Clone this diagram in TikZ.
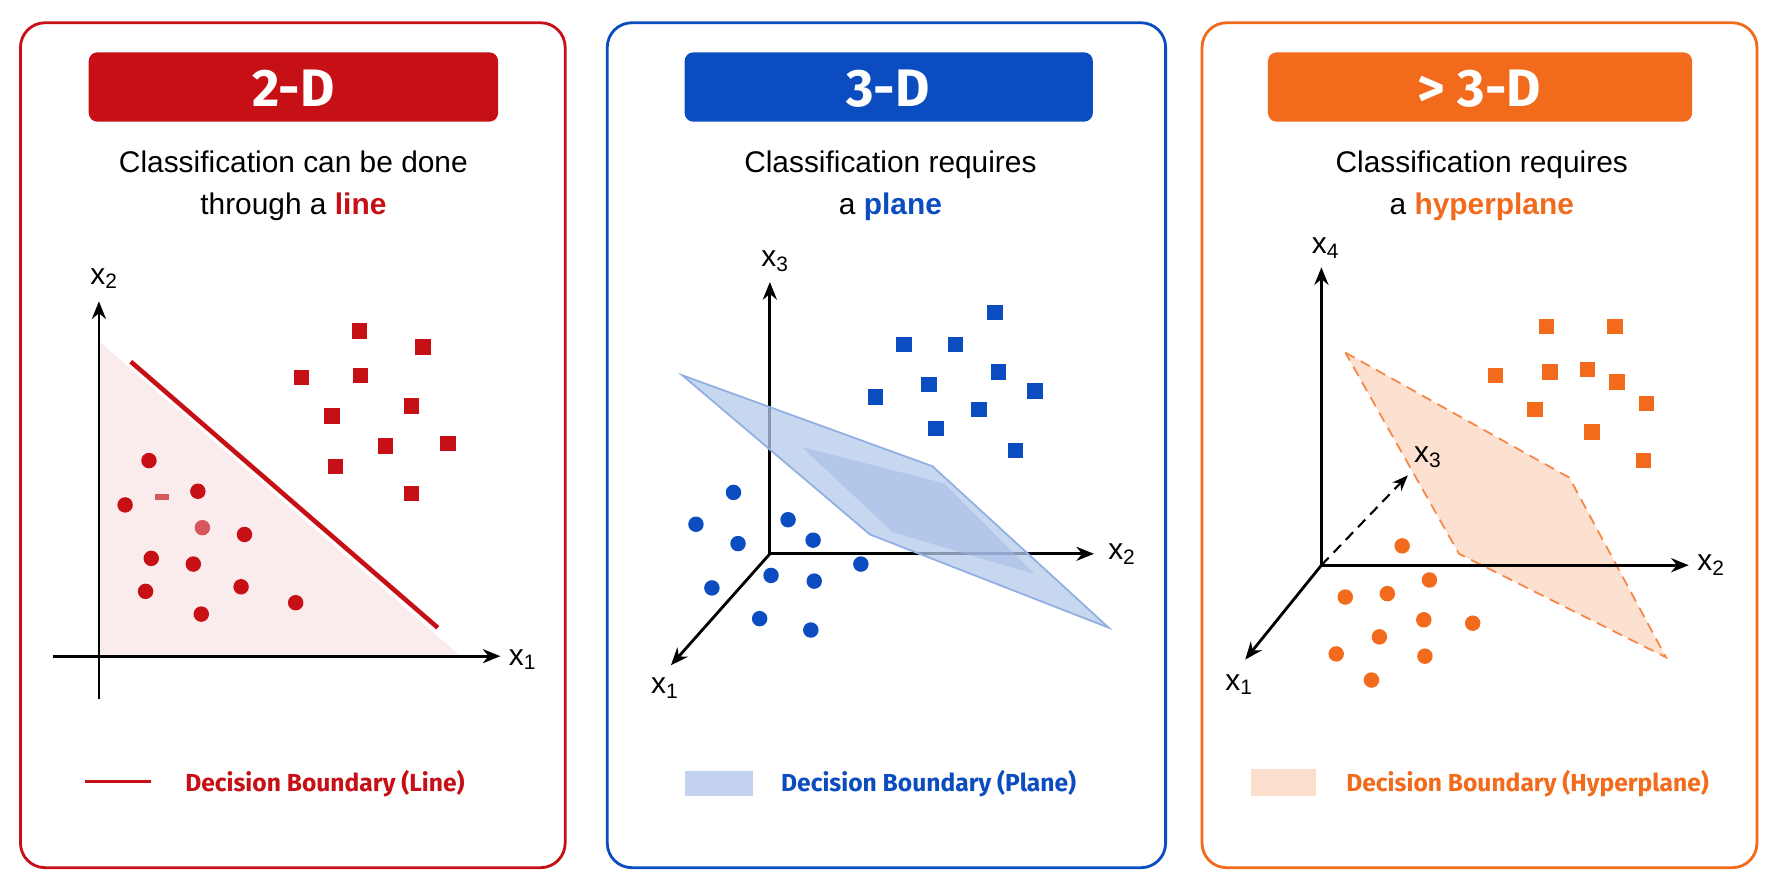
\documentclass[tikz,border=0pt]{standalone}
\usepackage{fontspec}
\setmainfont{Liberation Sans}
\newfontfamily\cond{Fira Sans}
\usetikzlibrary{arrows.meta}
\definecolor{cred}{HTML}{C70F16}
\definecolor{cblue}{HTML}{0B4DC0}
\definecolor{corange}{HTML}{F26A1B}
\newcommand{\xs}[1]{x\textsubscript{#1}}
\begin{document}
\begin{tikzpicture}[x=0.1137mm,y=-0.1137mm,
  panel/.style={rounded corners=7pt,line width=0.8pt,fill=white},
  bar/.style={rounded corners=2.5pt},
  ttl/.style={text=white,font=\cond\bfseries\fontsize{15}{15}\selectfont},
  sub/.style={font=\fontsize{8.5}{12}\selectfont,align=center},
  ax/.style={line width=0.8pt,-{Stealth[length=5pt,width=4pt]}},
  lab/.style={font=\fontsize{8.5}{8}\selectfont},
  leg/.style={font=\cond\bfseries\fontsize{7}{8}\selectfont,anchor=west},
  dot/.style={circle,inner sep=0pt,minimum size=4.4pt},
  sq/.style={rectangle,inner sep=0pt,minimum size=4.4pt}]
\useasboundingbox (0,0) rectangle (1560,780);
\fill[white] (0,0) rectangle (1560,780);
% panels
\draw[panel,draw=cred] (18,20) rectangle (497,763);
\draw[panel,draw=cblue] (534,20) rectangle (1025,763);
\draw[panel,draw=corange] (1057,20) rectangle (1545,763);
\fill[bar,cred] (78,46) rectangle (438,107);
\fill[bar,cblue] (602,46) rectangle (961,107);
\fill[bar,corange] (1115,46) rectangle (1488,107);
\node[ttl] (t1) at (258,78) {2-D};
\node[ttl] (t2) at (781,78) {3-D};
\node[ttl] (t3) at (1301,78) {> 3-D};
\node[sub] (s1) at (258,163) {Classification can be done\\through a \textcolor{cred}{\textbf{line}}};
\node[sub] (s2) at (783,163) {Classification requires\\a \textcolor{cblue}{\textbf{plane}}};
\node[sub] (s3) at (1303,163) {Classification requires\\a \textcolor{corange}{\textbf{hyperplane}}};
% ---------- panel 1
\fill[cred!8] (87,300) -- (87,577) -- (405,577) -- cycle;
\coordinate (o1b) at (87,615); \coordinate (o1t) at (87,265);
\coordinate (o1l) at (47,577); \coordinate (o1r) at (440,577);
\draw[ax] (o1b) -- (o1t);
\draw[ax] (o1l) -- (o1r);
\node[lab] (l12) at (92,245) {\xs{2}};
\node[lab] (l11) at (460,580) {\xs{1}};
\coordinate (b1) at (115,318); \coordinate (b2) at (385,552);
\draw[cred,line width=1.3pt] (b1) -- (b2);
\foreach \p in {(131,405),(110,444),(174,432),(215,470),(133,491),(170,496),(128,520),(212,516),(260,530),(177,540)} \node[dot,fill=cred] at \p {};
\node[dot,fill=cred!70] at (178,464) {};
\fill[cred!70] (136,434) rectangle (149,440);
\foreach \p in {(316,291),(372,305),(265,332),(317,330),(362,357),(292,366),(339,392),(394,390),(295,410),(362,434)} \node[sq,fill=cred] at \p {};
\coordinate (g1a) at (75,687); \coordinate (g1b) at (133,687);
\draw[cred,line width=1pt] (g1a) -- (g1b);
\node[leg,text=cred] (lg1) at (152,689) {Decision Boundary (Line)};
% ---------- panel 2
\coordinate (o2) at (677,487);
\coordinate (o2t) at (677,248); \coordinate (o2r) at (962,487); \coordinate (o2l) at (590,585);
\draw[ax] (o2) -- (o2t);
\draw[ax] (o2) -- (o2r);
\draw[ax] (o2) -- (o2l);
\node[lab] (l23) at (682,230) {\xs{3}};
\node[lab] (l22) at (987,487) {\xs{2}};
\node[lab] (l21) at (585,605) {\xs{1}};
\filldraw[fill=cblue!30,draw=cblue!45,fill opacity=0.75,line width=0.5pt] (600,330) -- (820,410) -- (975,552) -- (765,470) -- cycle;
\fill[cblue!40,opacity=0.5] (705,393) -- (830,425) -- (910,505) -- (785,468) -- cycle;
\foreach \p in {(875,275),(795,303),(840,303),(878,327),(817,338),(770,349),(861,360),(910,344),(823,377),(893,396)} \node[sq,fill=cblue] at \p {};
\foreach \p in {(645,433),(612,461),(649,478),(693,457),(715,475),(757,496),(626,517),(678,506),(716,511),(668,544),(713,554)} \node[dot,fill=cblue] at \p {};
\fill[cblue!25] (602,678) rectangle (662,700);
\node[leg,text=cblue] (lg2) at (676,689) {Decision Boundary (Plane)};
% ---------- panel 3
\coordinate (o3) at (1162,497);
\coordinate (o3t) at (1162,235); \coordinate (o3r) at (1485,497);
\coordinate (o3l) at (1095,580); \coordinate (o3d) at (1238,418);
\filldraw[fill=corange!25,draw=corange!80,fill opacity=0.8,densely dashed,line width=0.5pt] (1183,310) -- (1380,420) -- (1465,578) -- (1283,487) -- cycle;
\draw[ax] (o3) -- (o3t);
\draw[ax] (o3) -- (o3r);
\draw[ax] (o3) -- (o3l);
\draw[line width=0.6pt,densely dashed,-{Stealth[length=4.5pt,width=3.5pt]}] (o3) -- (o3d);
\node[lab] (l34) at (1166,218) {\xs{4}};
\node[lab] (l32) at (1505,497) {\xs{2}};
\node[lab] (l31) at (1090,602) {\xs{1}};
\node[lab] (l33) at (1256,402) {\xs{3}};
\foreach \p in {(1360,287),(1420,287),(1315,330),(1363,327),(1396,325),(1422,336),(1448,355),(1350,360),(1400,380),(1445,405)} \node[sq,fill=corange] at \p {};
\foreach \p in {(1233,480),(1183,525),(1220,522),(1257,510),(1295,548),(1252,545),(1213,560),(1175,575),(1253,577),(1206,598)} \node[dot,fill=corange] at \p {};
\fill[corange!22] (1100,676) rectangle (1157,700);
\node[leg,text=corange] (lg3) at (1173,689) {Decision Boundary (Hyperplane)};
\end{tikzpicture}
\end{document}
